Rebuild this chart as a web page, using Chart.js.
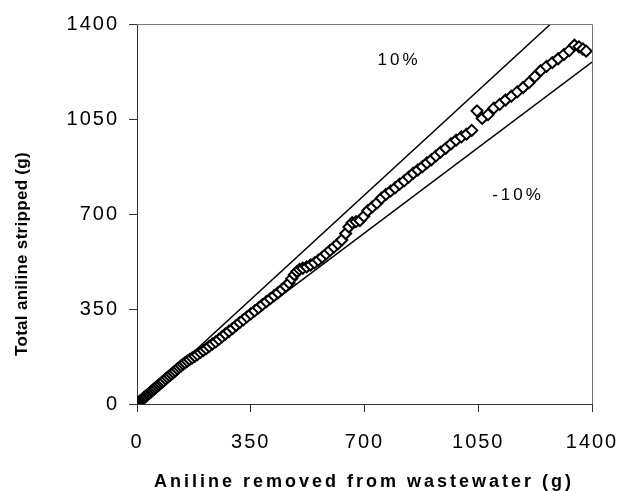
<!DOCTYPE html>
<html>
<head>
<meta charset="utf-8">
<script src="https://cdn.jsdelivr.net/npm/chart.js@4/dist/chart.umd.min.js"></script>
<style>
  body { margin: 0; background: #fff; }
  #wrap { width: 621px; height: 491px; }
</style>
</head>
<body>
<div id="wrap"><canvas id="stripChart"></canvas></div>
<script>
// aniline removed from wastewater (g)
const removed = [0, 2, 4, 6, 8, 10, 13, 16, 19, 22, 25, 28, 32, 36, 40, 44, 48, 52, 57, 62, 67, 72, 77, 82, 88, 94, 100, 106, 112, 118, 124, 130, 136, 142, 148, 155,
  162, 170, 178, 186, 195, 204, 213, 222, 232, 242, 252, 262, 272, 283, 294, 305, 316, 327, 338, 350, 362, 374, 386, 398, 410, 422, 434, 446, 458, 468, 476, 484, 492, 500,
  510, 522, 534, 546, 558, 570, 582, 594, 606, 618, 630, 642, 652, 662, 674, 686, 698, 710, 724, 738, 752, 766, 780, 794, 808, 822, 836, 850, 864, 878, 892, 906, 920, 934,
  950, 966, 982, 998, 1014, 1030, 1046, 1062, 1080, 1098, 1116, 1134, 1152, 1170, 1188, 1206, 1224, 1242, 1260, 1278, 1296, 1314, 1330, 1346, 1360, 1372, 1382];
// total aniline stripped (g)
const stripped = [0, 3, 5, 6, 9, 11, 14, 17, 20, 24, 27, 29, 34, 38, 42, 46, 50, 55, 60, 65, 70, 75, 80, 85, 92, 98, 104, 110, 116, 122, 129, 135, 141, 147, 152, 158,
  164, 170, 176, 182, 190, 197, 204, 212, 221, 229, 238, 248, 258, 268, 278, 289, 300, 310, 321, 332, 343, 354, 366, 377, 388, 399, 410, 422, 434, 446, 462, 476, 488, 496,
  500, 505, 512, 520, 530, 541, 553, 566, 578, 590, 604, 628, 652, 668, 672, 676, 692, 712, 726, 740, 758, 772, 784, 796, 810, 822, 836, 850, 862, 874, 888, 900, 914, 928,
  942, 958, 972, 984, 994, 1008, 1080, 1052, 1066, 1090, 1104, 1120, 1134, 1150, 1166, 1184, 1206, 1228, 1244, 1258, 1272, 1288, 1302, 1322, 1316, 1308, 1300];
// +10% / -10% reference lines
const upperLine = [{ x: 0, y: 0 }, { x: 1400 / 1.1, y: 1400 }];
const lowerLine = [{ x: 0, y: 0 }, { x: 1400, y: 1260 }];
const tickValues = [0, 350, 700, 1050, 1400];

const font = "'Liberation Sans', Arial, sans-serif";

const extras = {
  id: 'extras',
  beforeDraw(chart) {
    chart.ctx.letterSpacing = '2px';
  },
  afterDraw(chart) {
    const { ctx, chartArea: a } = chart;
    ctx.save();
    ctx.strokeStyle = '#777';
    ctx.lineWidth = 1;
    ctx.beginPath();
    ctx.moveTo(a.left, a.top + 0.5);
    ctx.lineTo(a.right + 0.5, a.top + 0.5);
    ctx.lineTo(a.right + 0.5, a.bottom);
    ctx.stroke();

    ctx.fillStyle = '#000';
    ctx.textAlign = 'center';
    ctx.textBaseline = 'middle';
    ctx.letterSpacing = '3px';
    ctx.font = '17px ' + font;
    ctx.fillText('10%', 399, 60);
    ctx.fillText('-10%', 518, 195);

    ctx.font = 'bold 18px ' + font;
    ctx.fillText('Aniline removed from wastewater (g)', 364, 482);

    ctx.letterSpacing = '0.3px';
    ctx.font = 'bold 17px ' + font;
    ctx.translate(22, 254);
    ctx.rotate(-Math.PI / 2);
    ctx.fillText('Total aniline stripped (g)', 0, 0);
    ctx.restore();
  }
};

const axis = (extra) => Object.assign({
  type: 'linear',
  min: 0,
  max: 1400,
  afterBuildTicks: s => { s.ticks = tickValues.map(v => ({ value: v })); },
  grid: { drawOnChartArea: false, tickLength: 8, color: '#333', tickColor: '#333' },
  border: { color: '#333', width: 1 }
}, extra);

const tickOpts = (pad) => ({
  color: '#000',
  padding: pad,
  maxRotation: 0,
  font: { family: font, size: 20 },
  callback: v => String(v)
});

new Chart(document.getElementById('stripChart'), {
  type: 'scatter',
  data: {
    datasets: [
      {
        label: 'data',
        data: removed.map((x, i) => ({ x, y: stripped[i] })),
        pointStyle: 'rectRot',
        pointRadius: 5.5,
        borderColor: '#000',
        backgroundColor: '#fff',
        pointBorderWidth: 2,
        order: 0
      },
      {
        label: '10%',
        data: upperLine,
        type: 'line',
        showLine: true,
        borderColor: '#000',
        borderWidth: 1.5,
        pointRadius: 0,
        order: 1
      },
      {
        label: '-10%',
        data: lowerLine,
        type: 'line',
        showLine: true,
        borderColor: '#000',
        borderWidth: 1.5,
        pointRadius: 0,
        order: 1
      }
    ]
  },
  options: {
    responsive: true,
    maintainAspectRatio: false,
    animation: false,
    layout: { padding: { top: 24, right: 29, left: 0, bottom: 0 } },
    plugins: { legend: { display: false }, tooltip: { enabled: false } },
    scales: {
      x: axis({ ticks: tickOpts(18), afterFit: s => { s.height = 87; s.paddingRight = 0; s.paddingLeft = 0; } }),
      y: axis({ ticks: tickOpts(10), afterFit: s => { s.width = 137; s.paddingTop = 0; s.paddingBottom = 0; } })
    }
  },
  plugins: [extras]
});
</script>
</body>
</html>
